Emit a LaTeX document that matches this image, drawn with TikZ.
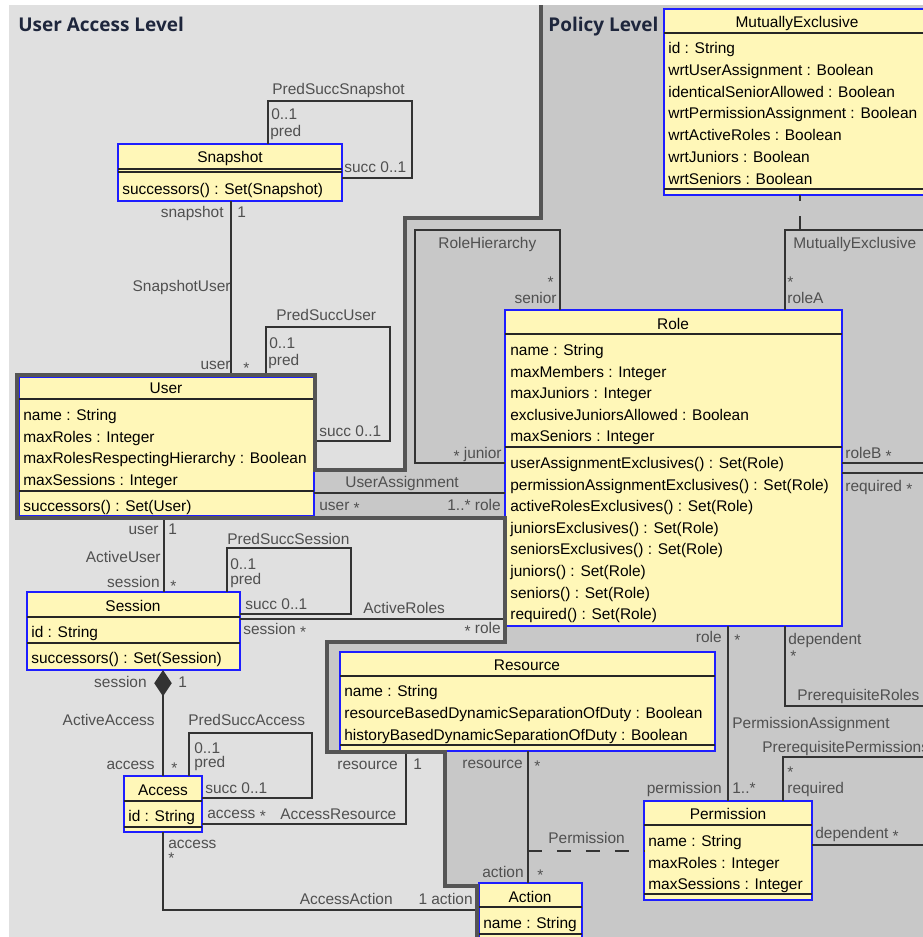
\documentclass[tikz,border=0pt]{standalone}
\usepackage{fontspec}
\setmainfont{Liberation Sans}
\newfontfamily\titlefont{Open Sans}
\usetikzlibrary{arrows.meta,fit}

\definecolor{classfill}{RGB}{255,247,184}
\definecolor{classedge}{RGB}{30,30,255}
\definecolor{accesslevel}{RGB}{224,224,224}
\definecolor{policylevel}{RGB}{200,200,200}
\definecolor{levelline}{RGB}{85,85,85}
\definecolor{labelgray}{RGB}{80,80,80}
\definecolor{titleblue}{RGB}{30,38,60}

% lowered multiplicity star
\newcommand{\many}{\raisebox{-0.22em}{*}}

\tikzset{
  classbox/.style={draw=classedge, fill=classfill, line width=0.8pt, inner sep=0pt, outer sep=0pt},
  cname/.style={font=\fontsize{8.8}{10}\selectfont, inner sep=0pt, text height=6.3pt, text depth=0pt},
  member/.style={cname, anchor=west},
  sepline/.style={line width=0.7pt, black!85},
  assoc/.style={line width=0.8pt, black!80},
  dashline/.style={assoc, dash pattern=on 8pt off 8.5pt},
  lbl/.style={cname, text=labelgray},
  starlbl/.style={lbl, text height=3pt},
  levelborder/.style={line width=2.4pt, levelline},
  leveltitle/.style={font=\titlefont\bfseries\fontsize{10.8}{12}\selectfont, text=titleblue, inner sep=0pt, text height=7.8pt, text depth=0pt, anchor=west}
}

\begin{document}
\begin{tikzpicture}[x=0.02cm, y=-0.02cm]
    \useasboundingbox (0,0) rectangle (923,937);
    \clip (0,0) rectangle (923,937);
    \fill[white] (0,0) rectangle (923,937);

    % The two levels
    \fill[accesslevel] (9,5) rectangle (923,937);
    \fill[policylevel] (541,5) -- (541,218) -- (405,218) -- (405,470) -- (315,470) -- (315,375) -- (17,375) -- (17,518)
        -- (505,518) -- (505,642) -- (327,642) -- (327,752) -- (445,752) -- (445,886) -- (477,886) -- (477,937)
        -- (923,937) -- (923,5) -- cycle;
    \node[leveltitle] (t-user) at (18,25) {User Access Level};
    \node[leveltitle] (t-policy) at (548,25) {Policy Level};

    % Class boxes
    \node[classbox, fit={(118,144) (342,201)}] (snap) {};
    \node[classbox, fit={(19,377) (314,516)}] (user) {};
    \node[classbox, fit={(27,592) (240,670)}] (sess) {};
    \node[classbox, fit={(124,776) (202,832)}] (acc) {};
    \node[classbox, fit={(505,310) (842,626)}] (role) {};
    \node[classbox, fit={(664,9) (930,195)}] (mutex) {};
    \node[classbox, fit={(340,652) (715,751)}] (res) {};
    \node[classbox, fit={(644,801) (812,900)}] (perm) {};
    \node[classbox, fit={(479,883) (582,960)}] (act) {};

    % Compartment lines
    \draw[sepline] (118,169) -- (342,169) (118,172) -- (342,172);
    \draw[sepline] (19,399) -- (314,399) (19,491) -- (314,491);
    \draw[sepline] (27,617) -- (240,617) (27,643) -- (240,643);
    \draw[sepline] (124,801) -- (202,801) (124,827) -- (202,827);
    \draw[sepline] (505,334) -- (842,334) (505,447) -- (842,447);
    \draw[sepline] (664,33) -- (930,33) (664,189) -- (930,189);
    \draw[sepline] (340,676) -- (715,676) (340,745) -- (715,745);
    \draw[sepline] (644,825) -- (812,825) (644,894) -- (812,894);
    \draw[sepline] (479,907) -- (582,907) (479,934) -- (582,934);

    % Class names and members
    \node[cname] (snap-n) at (230,157) {Snapshot};
    \node[member] (snap-o1) at (122,189) {successors() : Set(Snapshot)};

    \node[cname] (user-n) at (166,388) {User};
    \foreach \t [count=\i] in {name : String, maxRoles : Integer, maxRolesRespectingHierarchy : Boolean, maxSessions : Integer}
        \node[member] (user-a\i) at (23,{415+21.7*(\i-1)}) {\t};
    \node[member] (user-o1) at (23,506) {successors() : Set(User)};

    \node[cname] (sess-n) at (133,606) {Session};
    \node[member] (sess-a1) at (31,632) {id : String};
    \node[member] (sess-o1) at (31,658) {successors() : Set(Session)};

    \node[cname] (acc-n) at (163,790) {Access};
    \node[member] (acc-a1) at (128,816) {id : String};

    \node[cname] (role-n) at (673,324) {Role};
    \foreach \t [count=\i] in {name : String, maxMembers : Integer, maxJuniors : Integer, exclusiveJuniorsAllowed : Boolean, maxSeniors : Integer}
        \node[member] (role-a\i) at (510,{350+21.6*(\i-1)}) {\t};
    \foreach \t [count=\i] in {userAssignmentExclusives() : Set(Role), permissionAssignmentExclusives() : Set(Role),
        activeRolesExclusives() : Set(Role), juniorsExclusives() : Set(Role), seniorsExclusives() : Set(Role),
        juniors() : Set(Role), seniors() : Set(Role), required() : Set(Role)}
        \node[member] (role-o\i) at (510,{463+21.6*(\i-1)}) {\t};

    \node[cname] (mutex-n) at (797,22) {MutuallyExclusive};
    \foreach \t [count=\i] in {id : String, wrtUserAssignment : Boolean, identicalSeniorAllowed : Boolean,
        wrtPermissionAssignment : Boolean, wrtActiveRoles : Boolean, wrtJuniors : Boolean, wrtSeniors : Boolean}
        \node[member] (mutex-a\i) at (668,{48+21.8*(\i-1)}) {\t};

    \node[cname] (res-n) at (527,665) {Resource};
    \foreach \t [count=\i] in {name : String, resourceBasedDynamicSeparationOfDuty : Boolean, historyBasedDynamicSeparationOfDuty : Boolean}
        \node[member] (res-a\i) at (344,{691+22*(\i-1)}) {\t};

    \node[cname] (perm-n) at (728,814) {Permission};
    \foreach \t [count=\i] in {name : String, maxRoles : Integer, maxSessions : Integer}
        \node[member] (perm-a\i) at (648,{841+21.5*(\i-1)}) {\t};

    \node[cname] (act-n) at (530,897) {Action};
    \node[member] (act-a1) at (483,923) {name : String};

    % Associations
    \draw[assoc] (snap.north -| 268,0) |- (412,101) |- (snap.east |- 0,178);
    \draw[assoc] (snap.south -| 231,0) -- (user.north -| 231,0);
    \draw[assoc] (user.north -| 266,0) |- (390,327) |- (user.east |- 0,441);
    \draw[assoc] (user.east |- 0,493) -- (role.west |- 0,493);
    \draw[assoc] (role.north -| 560,0) |- (415,230) |- (role.west |- 0,463);
    \draw[assoc] (role.north -| 785,0) |- (950,230) |- (role.east |- 0,463);
    \coordinate (mex-link) at (800,230);
    \draw[dashline] (mex-link) -- (mutex.south -| mex-link);
    \draw[assoc] (role.south -| 785,0) |- (950,706) |- (role.east |- 0,473);
    \draw[assoc] (role.south -| 728,0) -- (perm.north -| 728,0);
    \draw[assoc] (perm.north -| 783,0) |- (950,757) |- (perm.east |- 0,845);
    \draw[assoc] (user.south -| 164,0) -- (sess.north -| 164,0);
    \draw[assoc] (sess.north -| 227,0) |- (351,548) |- (sess.east |- 0,614);
    \draw[assoc] (sess.east |- 0,619) -- (role.west |- 0,619);
    \draw[assoc, {Diamond[length=15pt,width=10pt]}-] (sess.south -| 163,0) -- (acc.north -| 163,0);
    \draw[assoc] (acc.north -| 189,0) |- (312,733) |- (acc.east |- 0,798);
    \draw[assoc] (acc.east |- 0,824) -| (res.south -| 406,0);
    \draw[assoc] (acc.south -| 163,0) |- (act.west |- 0,910);
    \draw[assoc] (res.south -| 528,0) -- (act.north -| 528,0);
    \coordinate (perm-link) at (528,851);
    \draw[dashline] (perm-link) -- (perm.west |- perm-link);

    % Level border
    \draw[levelborder] (541,5) -- (541,218) -- (405,218) -- (405,470) -- (315,470) -- (315,375) -- (17,375) -- (17,518)
        -- (505,518) -- (505,642) -- (327,642) -- (327,752) -- (445,752) -- (445,886) -- (477,886) -- (477,937);

    % Association labels
    \node[lbl, anchor=west] (l-pss) at (272,89) {PredSuccSnapshot};
    \node[lbl, anchor=west] (l-pss-m1) at (271,114) {0..1};
    \node[lbl, anchor=west] (l-pss-r1) at (270,131) {pred};
    \node[lbl, anchor=west] (l-pss-r2) at (344,167) {succ 0..1};
    \node[lbl, anchor=east] (l-su-r1) at (224,212) {snapshot};
    \node[lbl, anchor=west] (l-su-m1) at (237,212) {1};
    \node[lbl, anchor=east] (l-su) at (231,286) {SnapshotUser};
    \node[lbl, anchor=east] (l-su-r2) at (231,364) {user};
    \node[lbl, anchor=west] (l-su-m2) at (243,365) {\many};

    \node[lbl, anchor=west] (l-psu) at (276,315) {PredSuccUser};
    \node[lbl, anchor=west] (l-psu-m1) at (269,343) {0..1};
    \node[lbl, anchor=west] (l-psu-r1) at (268,360) {pred};
    \node[lbl, anchor=west] (l-psu-r2) at (319,431) {succ 0..1};

    \node[lbl, anchor=west] (l-ua) at (345,482) {UserAssignment};
    \node[lbl, anchor=west] (l-ua-r1) at (319,505) {user \many};
    \node[lbl, anchor=east] (l-ua-r2) at (501,505) {1..* role};

    \node[lbl, anchor=west] (l-rh) at (438,243) {RoleHierarchy};
    \node[starlbl, anchor=east] (l-rh-m1) at (554,285) {*};
    \node[lbl, anchor=east] (l-rh-r1) at (557,298) {senior};
    \node[lbl, anchor=east] (l-rh-r2) at (502,453) {\many\ junior};

    \node[lbl, anchor=west] (l-me) at (793,243) {MutuallyExclusive};
    \node[starlbl, anchor=west] (l-me-m1) at (787,285) {*};
    \node[lbl, anchor=west] (l-me-r1) at (787,298) {roleA};
    \node[lbl, anchor=west] (l-me-r2) at (845,453) {roleB \many};

    \node[lbl, anchor=west] (l-pr-r1) at (845,486) {required \many};
    \node[lbl, anchor=west] (l-pr-r2) at (788,639) {dependent};
    \node[starlbl, anchor=west] (l-pr-m2) at (790,659) {*};
    \node[lbl, anchor=west] (l-pr) at (797,695) {PrerequisiteRoles};

    \node[lbl, anchor=east] (l-pa-r1) at (722,637) {role};
    \node[lbl, anchor=west] (l-pa-m1) at (734,637) {\many};
    \node[lbl, anchor=west] (l-pa) at (732,723) {PermissionAssignment};
    \node[lbl, anchor=east] (l-pa-r2) at (722,788) {permission};
    \node[lbl, anchor=west] (l-pa-m2) at (732,788) {1..*};

    \node[lbl, anchor=west] (l-pp) at (762,747) {PrerequisitePermissions};
    \node[starlbl, anchor=west] (l-pp-m1) at (787,775) {*};
    \node[lbl, anchor=west] (l-pp-r1) at (787,788) {required};
    \node[lbl, anchor=west] (l-pp-r2) at (815,833) {dependent \many};

    \node[lbl, anchor=east] (l-au-r1) at (159,529) {user};
    \node[lbl, anchor=west] (l-au-m1) at (168,529) {1};
    \node[lbl, anchor=east] (l-au) at (161,557) {ActiveUser};
    \node[lbl, anchor=east] (l-au-r2) at (160,582) {session};
    \node[lbl, anchor=west] (l-au-m2) at (170,583) {\many};

    \node[lbl, anchor=west] (l-pse) at (227,539) {PredSuccSession};
    \node[lbl, anchor=west] (l-pse-m1) at (230,564) {0..1};
    \node[lbl, anchor=west] (l-pse-r1) at (230,579) {pred};
    \node[lbl, anchor=west] (l-pse-r2) at (245,604) {succ 0..1};

    \node[lbl, anchor=west] (l-ar) at (363,608) {ActiveRoles};
    \node[lbl, anchor=west] (l-ar-r1) at (243,629) {session \many};
    \node[lbl, anchor=east] (l-ar-r2) at (501,628) {\many\ role};

    \node[lbl, anchor=east] (l-aa-r1) at (147,682) {session};
    \node[lbl, anchor=west] (l-aa-m1) at (178,682) {1};
    \node[lbl, anchor=east] (l-aa) at (155,720) {ActiveAccess};
    \node[lbl, anchor=east] (l-aa-r2) at (155,764) {access};
    \node[lbl, anchor=west] (l-aa-m2) at (171,765) {\many};

    \node[lbl, anchor=west] (l-psa) at (188,720) {PredSuccAccess};
    \node[lbl, anchor=west] (l-psa-m1) at (194,748) {0..1};
    \node[lbl, anchor=west] (l-psa-r1) at (194,762) {pred};
    \node[lbl, anchor=west] (l-psa-r2) at (205,788) {succ 0..1};

    \node[lbl, anchor=west] (l-acr-r1) at (207,813) {access \many};
    \node[lbl, anchor=west] (l-acr) at (280,814) {AccessResource};
    \node[lbl, anchor=east] (l-acr-r2) at (398,764) {resource};
    \node[lbl, anchor=west] (l-acr-m2) at (413,764) {1};

    \node[lbl, anchor=west] (l-aca-r1) at (168,843) {access};
    \node[starlbl, anchor=west] (l-aca-m1) at (168,861) {*};
    \node[lbl, anchor=east] (l-aca) at (393,899) {AccessAction};
    \node[lbl, anchor=east] (l-aca-r2) at (473,899) {1 action};

    \node[lbl, anchor=east] (l-pm-r1) at (523,763) {resource};
    \node[lbl, anchor=west] (l-pm-m1) at (534,763) {\many};
    \node[lbl, anchor=east] (l-pm-r2) at (524,872) {action};
    \node[lbl, anchor=west] (l-pm-m2) at (537,872) {\many};
    \node[lbl, anchor=west] (l-pm) at (548,838) {Permission};
\end{tikzpicture}
\end{document}
